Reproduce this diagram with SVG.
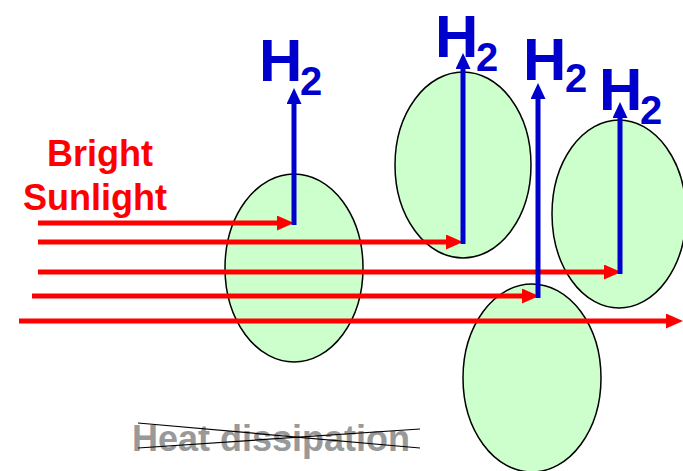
<svg xmlns="http://www.w3.org/2000/svg" width="683" height="471" viewBox="0 0 683 471">
<style>
.cell{fill:#ccffcc;stroke:#000;stroke-width:1.5}
.ray{stroke:#ff0000;stroke-width:5;fill:none}
.h2{stroke:#0000cc;stroke-width:5;fill:none}
.lbl{font-family:"Liberation Sans",Arial,sans-serif;font-weight:bold}
.hb{fill:#0000cc}
.cross{stroke:#000;stroke-width:1.2}
</style>
<defs>
<marker id="ar" markerUnits="userSpaceOnUse" viewBox="0 0 17 15" refX="2" refY="7.5" markerWidth="17" markerHeight="15" orient="auto">
<path d="M0,0 L17,7.5 L0,15 Z" fill="#ff0000"/>
</marker>
<marker id="ab" markerUnits="userSpaceOnUse" viewBox="0 0 16 15" refX="2" refY="7.5" markerWidth="16" markerHeight="15" orient="auto">
<path d="M0,0 L16,7.5 L0,15 Z" fill="#0000cc"/>
</marker>
</defs>
<g id="cell1"><ellipse class="cell" cx="294" cy="268" rx="69" ry="94"/></g>
<g id="cell2"><ellipse class="cell" cx="463" cy="165" rx="68" ry="93"/></g>
<g id="cell3"><ellipse class="cell" cx="619" cy="214" rx="67" ry="94"/></g>
<g id="cell4"><ellipse class="cell" cx="532" cy="378" rx="69" ry="94"/></g>
<g id="connectors">
<path class="ray" d="M38,223 H279" marker-end="url(#ar)"/>
<path class="ray" d="M38,242 H448" marker-end="url(#ar)"/>
<path class="ray" d="M38,272 H606" marker-end="url(#ar)"/>
<path class="ray" d="M32,296 H524" marker-end="url(#ar)"/>
<path class="ray" d="M19,321 H668" marker-end="url(#ar)"/>
<path class="h2" d="M294,225 V102" marker-end="url(#ab)"/>
<path class="h2" d="M463,244 V67" marker-end="url(#ab)"/>
<path class="h2" d="M538,298 V97" marker-end="url(#ab)"/>
<path class="h2" d="M620,274 V116" marker-end="url(#ab)"/>
</g>
<g id="label-h2-1" class="lbl hb"><text x="259" y="81" font-size="60">H</text><text x="300" y="95" font-size="40">2</text></g>
<g id="label-h2-2" class="lbl hb"><text x="435" y="57" font-size="60">H</text><text x="476" y="71" font-size="40">2</text></g>
<g id="label-h2-3" class="lbl hb"><text x="523" y="80" font-size="60">H</text><text x="565" y="92" font-size="40">2</text></g>
<g id="label-h2-4" class="lbl hb"><text x="599" y="110" font-size="60">H</text><text x="640" y="124" font-size="40">2</text></g>
<g id="label-sunlight" class="lbl" fill="#ff0000" font-size="36">
<text x="47" y="166">Bright</text>
<text x="23" y="210">Sunlight</text>
</g>
<g id="label-heat">
<text class="lbl" x="132" y="451" font-size="36" fill="#999999">Heat dissipation</text>
<line class="cross" x1="138" y1="423" x2="420" y2="448"/>
<line class="cross" x1="138" y1="448" x2="420" y2="429"/>
</g>
</svg>
